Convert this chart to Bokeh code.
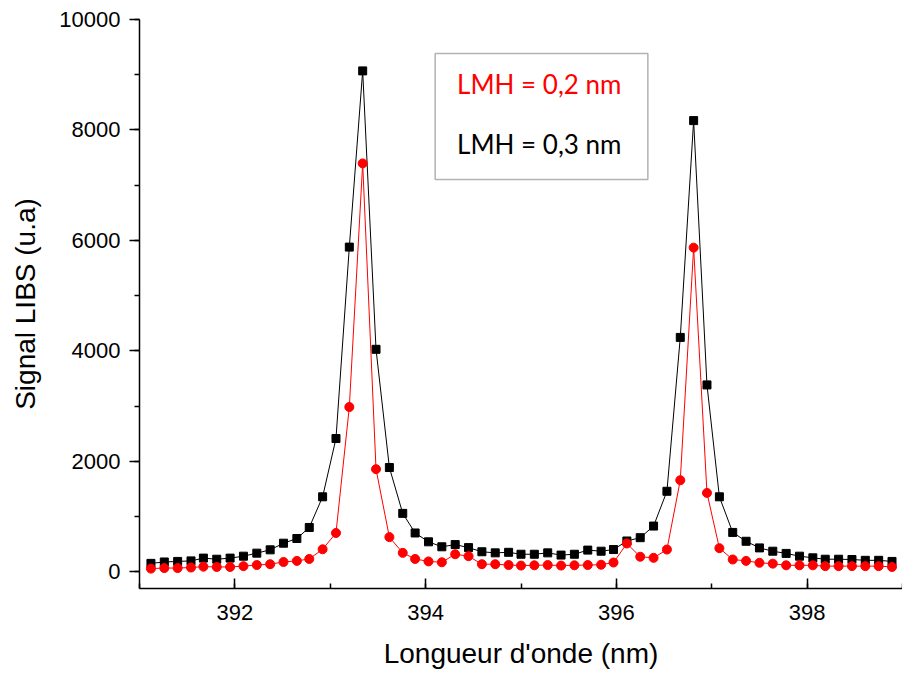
from bokeh.plotting import figure
from bokeh.models import Range1d, SingleIntervalTicker, BoxAnnotation, Label
from bokeh.embed import file_html
from bokeh.resources import INLINE

# Wavelength (nm)
wavelength = [391.12, 391.26, 391.40, 391.54, 391.67, 391.81, 391.95, 392.09, 392.23, 392.37,
              392.51, 392.65, 392.78, 392.92, 393.06, 393.20, 393.34, 393.48, 393.62, 393.76,
              393.89, 394.03, 394.17, 394.31, 394.45, 394.59, 394.73, 394.87, 395.00, 395.14,
              395.28, 395.42, 395.56, 395.70, 395.84, 395.97, 396.11, 396.25, 396.39, 396.53,
              396.67, 396.81, 396.95, 397.08, 397.22, 397.36, 397.50, 397.64, 397.78, 397.92,
              398.06, 398.19, 398.33, 398.47, 398.61, 398.75, 398.89]

# LMH = 0,3 nm (black squares)
signal_03 = [155, 180, 190, 200, 250, 230, 250, 285, 340, 400,
             520, 605, 805, 1360, 2415, 5880, 9070, 4030, 1890, 1060,
             705, 545, 455, 495, 440, 365, 345, 355, 320, 320,
             345, 305, 320, 395, 375, 405, 560, 620, 830, 1460,
             4245, 8170, 3385, 1360, 715, 555, 435, 375, 335, 285,
             255, 230, 230, 225, 210, 210, 190]

# LMH = 0,2 nm (red circles)
signal_02 = [60, 70, 70, 80, 95, 90, 90, 105, 125, 140,
             180, 200, 235, 410, 705, 2985, 7395, 1860, 630, 345,
             235, 190, 175, 320, 285, 140, 140, 125, 115, 120,
             125, 115, 120, 125, 130, 170, 515, 275, 255, 405,
             1660, 5870, 1430, 430, 225, 200, 165, 150, 120, 120,
             120, 105, 105, 105, 105, 105, 90]

legend_labels = ["LMH = 0,2 nm", "LMH = 0,3 nm"]

p = figure(width=902, height=675, output_backend="svg", toolbar_location=None,
           x_range=Range1d(391, 399), y_range=Range1d(-300, 10000),
           min_border_left=139, min_border_right=0, min_border_top=19, min_border_bottom=87)
p.grid.visible = False
p.outline_line_color = None
p.background_fill_color = "white"
p.border_fill_color = "white"

p.xaxis.ticker = SingleIntervalTicker(interval=2, num_minor_ticks=2)
p.yaxis.ticker = SingleIntervalTicker(interval=2000, num_minor_ticks=2)

for ax in (p.xaxis[0], p.yaxis[0]):
    ax.axis_line_width = 1.5
    ax.axis_line_color = "black"
    ax.major_tick_line_width = 1.5
    ax.minor_tick_line_width = 1.5
    ax.major_tick_line_color = "black"
    ax.minor_tick_line_color = "black"
    ax.major_label_text_font = "Liberation Sans"
    ax.major_label_text_font_size = "22px"
    ax.major_label_text_color = "black"
    ax.axis_label_text_font = "Liberation Sans"
    ax.axis_label_text_font_size = "28px"
    ax.axis_label_text_font_style = "normal"
    ax.axis_label_text_color = "black"

xa = p.xaxis[0]
xa.major_tick_in = 10
xa.major_tick_out = 0
xa.minor_tick_in = 5
xa.minor_tick_out = 0
xa.major_label_standoff = 16
xa.axis_label = "Longueur d'onde (nm)"
xa.axis_label_standoff = 15

ya = p.yaxis[0]
ya.major_tick_in = 0
ya.major_tick_out = 10
ya.minor_tick_in = 0
ya.minor_tick_out = 5
ya.major_label_standoff = 9
ya.axis_label = "Signal LIBS (u.a)"
ya.axis_label_standoff = 15

p.line(wavelength, signal_03, line_color="black", line_width=1)
p.scatter(wavelength, signal_03, marker="square", size=8, fill_color="black", line_color="black")
p.line(wavelength, signal_02, line_color="red", line_width=1)
p.scatter(wavelength, signal_02, marker="circle", size=9, fill_color="red", line_color="red")

box = BoxAnnotation(left=394.10, right=396.33, top=9384, bottom=7104,
                    fill_color="white", fill_alpha=1.0, line_color="black", line_width=1.5)
p.add_layout(box)
p.add_layout(Label(x=394.33, y=8834, text=legend_labels[0], text_color="red",
                   text_font="Lato", text_font_size="26px",
                   text_baseline="middle", text_align="left"))
p.add_layout(Label(x=394.33, y=7755, text=legend_labels[1], text_color="black",
                   text_font="Lato", text_font_size="26px",
                   text_baseline="middle", text_align="left"))

open("out.html", "w").write(file_html(p, INLINE))
